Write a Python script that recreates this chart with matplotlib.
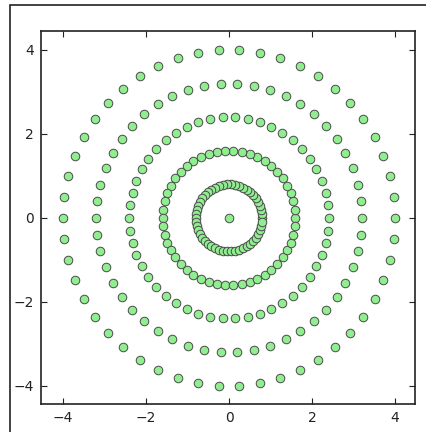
import numpy as np
import matplotlib
matplotlib.use('Agg')
import matplotlib.pyplot as plt
from matplotlib.patches import Rectangle

# concentric rings: radius and number of points on each
radii = [0.0, 0.8, 1.6, 2.4, 3.2, 4.0]
counts = [1, 50, 50, 50, 50, 50]
ticks = [-4, -2, 0, 2, 4]

xs = []
ys = []
for r, n in zip(radii, counts):
    theta = np.linspace(0, 2 * np.pi, n, endpoint=False)
    xs.extend(r * np.cos(theta))
    ys.extend(r * np.sin(theta))

fig = plt.figure(figsize=(4.27, 4.32), dpi=100)
ax = fig.add_axes([0.096, 0.065, 0.876, 0.863])

ax.scatter(xs, ys, s=38, c='lightgreen', edgecolors='#4a4a4a', linewidths=0.7, zorder=3)

ax.set_xlim(-4.53, 4.48)
ax.set_ylim(-4.43, 4.45)
ax.set_xticks(ticks)
ax.set_yticks(ticks)
ax.tick_params(direction='in', top=True, right=True, length=4, width=0.8,
               labelsize=10, colors='#222222', pad=5)
for sp in ax.spines.values():
    sp.set_linewidth(1.2)
    sp.set_color('#222222')

# outer screenshot frame
fig.patches.append(Rectangle((10 / 427, -0.1), 1.2, 1.1 - 5.5 / 432,
                             transform=fig.transFigure, fill=False,
                             edgecolor='#222222', linewidth=1.2))

fig.savefig('out.png', dpi=100)
